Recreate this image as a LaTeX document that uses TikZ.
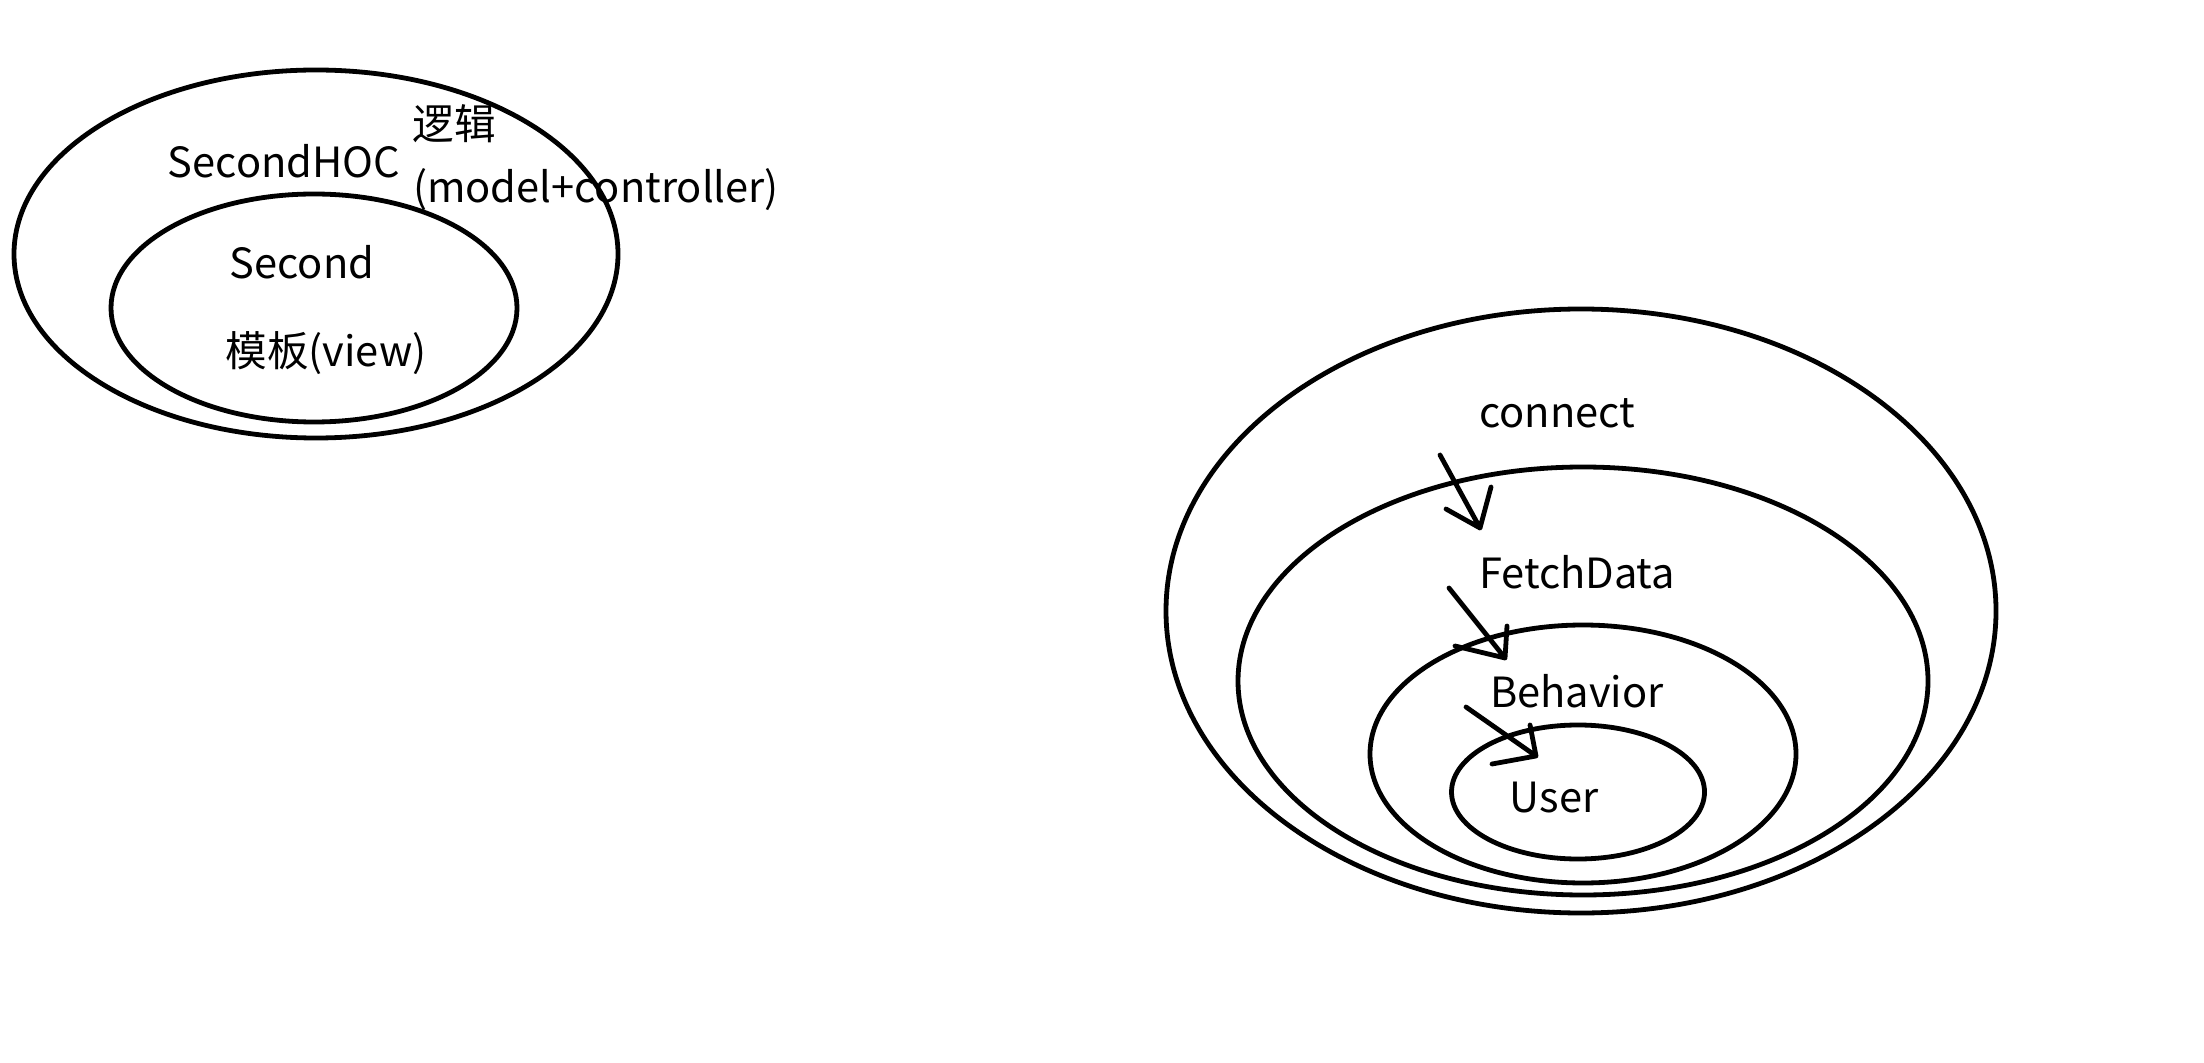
\documentclass[tikz,border=0pt]{standalone}
\usepackage{fontspec}
\setmainfont{Noto Sans CJK SC}
\usetikzlibrary{shapes.geometric}
\begin{document}
\begin{tikzpicture}[x=0.5pt,y=-0.5pt,
  ring/.style={draw,line width=2.4pt,ellipse,inner sep=0pt},
  lbl/.style={font=\fontsize{20.8}{25}\selectfont,inner sep=0pt},
  hand/.style={line width=2.4pt,line cap=round,line join=round}]
\useasboundingbox[fill=white] (0,0) rectangle (2204,1063);
% left group
\node[ring,minimum width=604*0.5pt,minimum height=368*0.5pt] (hocouter) at (316,254) {};
\node[ring,minimum width=406*0.5pt,minimum height=228*0.5pt] (hocinner) at (314,308) {};
\node[lbl] (hoc) at (284,161) {SecondHOC};
\node[lbl] (logic) at (454,124) {逻辑};
\node[lbl] (mc) at (596,190) {(model+controller)};
\node[lbl] (second) at (302,262) {Second};
\node[lbl] (view) at (326,353) {模板(view)};
% right group
\node[ring,minimum width=830*0.5pt,minimum height=604*0.5pt] (r1) at (1581,611) {};
\node[ring,minimum width=690*0.5pt,minimum height=428*0.5pt] (r2) at (1583,681) {};
\node[ring,minimum width=426*0.5pt,minimum height=258*0.5pt] (r3) at (1583,754) {};
\node[ring,minimum width=253*0.5pt,minimum height=134*0.5pt] (r4) at (1578,792) {};
\node[lbl] (connect) at (1557,413) {connect};
\node[lbl] (fetch) at (1577,572) {FetchData};
\node[lbl] (behav) at (1577,691) {Behavior};
\node[lbl] (user) at (1554,798) {User};
% hand-drawn arrows
\coordinate (a1s) at (1440,455); \coordinate (a1e) at (1480,528);
\coordinate (a1l) at (1491,487); \coordinate (a1r) at (1446,509);
\coordinate (a2s) at (1449,588); \coordinate (a2e) at (1505,658);
\coordinate (a2l) at (1507,626); \coordinate (a2r) at (1455,646);
\coordinate (a3s) at (1466,707); \coordinate (a3e) at (1536,756);
\coordinate (a3l) at (1530,725); \coordinate (a3r) at (1492,764);
\draw[hand] (a1s) -- (a1e) (a1l) -- (a1e) -- (a1r);
\draw[hand] (a2s) -- (a2e) (a2l) -- (a2e) -- (a2r);
\draw[hand] (a3s) -- (a3e) (a3l) -- (a3e) -- (a3r);
\end{tikzpicture}
\end{document}
